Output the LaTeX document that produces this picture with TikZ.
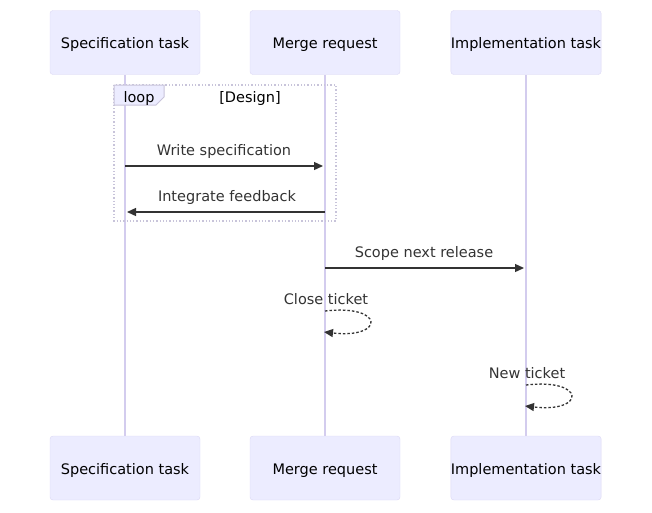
\documentclass[tikz,border=0pt]{standalone}
\usepackage{fontspec}
\setmainfont{DejaVu Sans}
\usetikzlibrary{arrows.meta}
\definecolor{actfill}{HTML}{ECECFF}
\definecolor{actline}{HTML}{DCD8F4}
\definecolor{lifeline}{HTML}{D3CCEE}
\definecolor{loopline}{HTML}{C8C4DA}
\definecolor{msg}{HTML}{333333}
\tikzset{
  actor/.style={draw=actline, fill=actfill, rounded corners=3pt, minimum width=150pt, minimum height=64pt, font=\fontsize{14.5}{16}\selectfont, text=black, inner sep=0pt, text depth=0pt, text height=12pt},
  life/.style={draw=lifeline, line width=1.2pt},
  msgline/.style={draw=msg, line width=1.3pt, -{Triangle[length=9pt,width=8pt]}},
  selfline/.style={draw=msg, line width=1.3pt, dash pattern=on 2.5pt off 2pt, -{Triangle[length=9pt,width=8pt]}},
  lbl/.style={font=\fontsize{14.5}{16}\selectfont, text=msg, inner sep=0pt},
}
\begin{document}
\begin{tikzpicture}[x=1pt,y=-1pt]
\useasboundingbox (0,0) rectangle (652,512);
% lifelines
\coordinate (s1) at (125,75); \coordinate (s2) at (125,436);
\coordinate (m1) at (325,75); \coordinate (m2) at (325,436);
\coordinate (i1) at (526,75); \coordinate (i2) at (526,436);
\draw[life] (s1) -- (s2);
\draw[life] (m1) -- (m2);
\draw[life] (i1) -- (i2);
% actors
\node[actor] (spec) at (125,42.5) {Specification task};
\node[actor] (merge) at (325,42.5) {Merge request};
\node[actor] (impl) at (526,42.5) {Implementation task};
\node[actor] (specb) at (125,468) {Specification task};
\node[actor] (mergeb) at (325,468) {Merge request};
\node[actor] (implb) at (526,468) {Implementation task};
% loop
\draw[loopline, line width=1.3pt, dotted] (114,85) rectangle (336,221);
\draw[loopline, fill=actfill, line width=1pt] (114,85) -- (164,85) -- (164,97) -- (156,105) -- (114,105) -- cycle;
\node[lbl, text=black] (looplbl) at (139,98) {loop};
\node[lbl, text=black] (cond) at (250,98) {[Design]};
% messages
\coordinate (a1) at (125,166); \coordinate (a2) at (323,166);
\draw[msgline] (a1) -- (a2);
\node[lbl] (t1) at (224,151.5) {Write specification};
\coordinate (b1) at (325,212); \coordinate (b2) at (127,212);
\draw[msgline] (b1) -- (b2);
\node[lbl] (t2) at (227,197.5) {Integrate feedback};
\coordinate (c1) at (325,268); \coordinate (c2) at (524,268);
\draw[msgline] (c1) -- (c2);
\node[lbl] (t3) at (424,253.5) {Scope next release};
\node[lbl] (t4) at (326,299.5) {Close ticket};
\coordinate (d1) at (325,311); \coordinate (d2) at (324,332);
\draw[selfline] (d1) .. controls (385,304) and (385,339) .. (d2);
\node[lbl] (t5) at (527,373.5) {New ticket};
\coordinate (e1) at (526,385); \coordinate (e2) at (525,406);
\draw[selfline] (e1) .. controls (586,378) and (586,413) .. (e2);
\end{tikzpicture}
\end{document}
